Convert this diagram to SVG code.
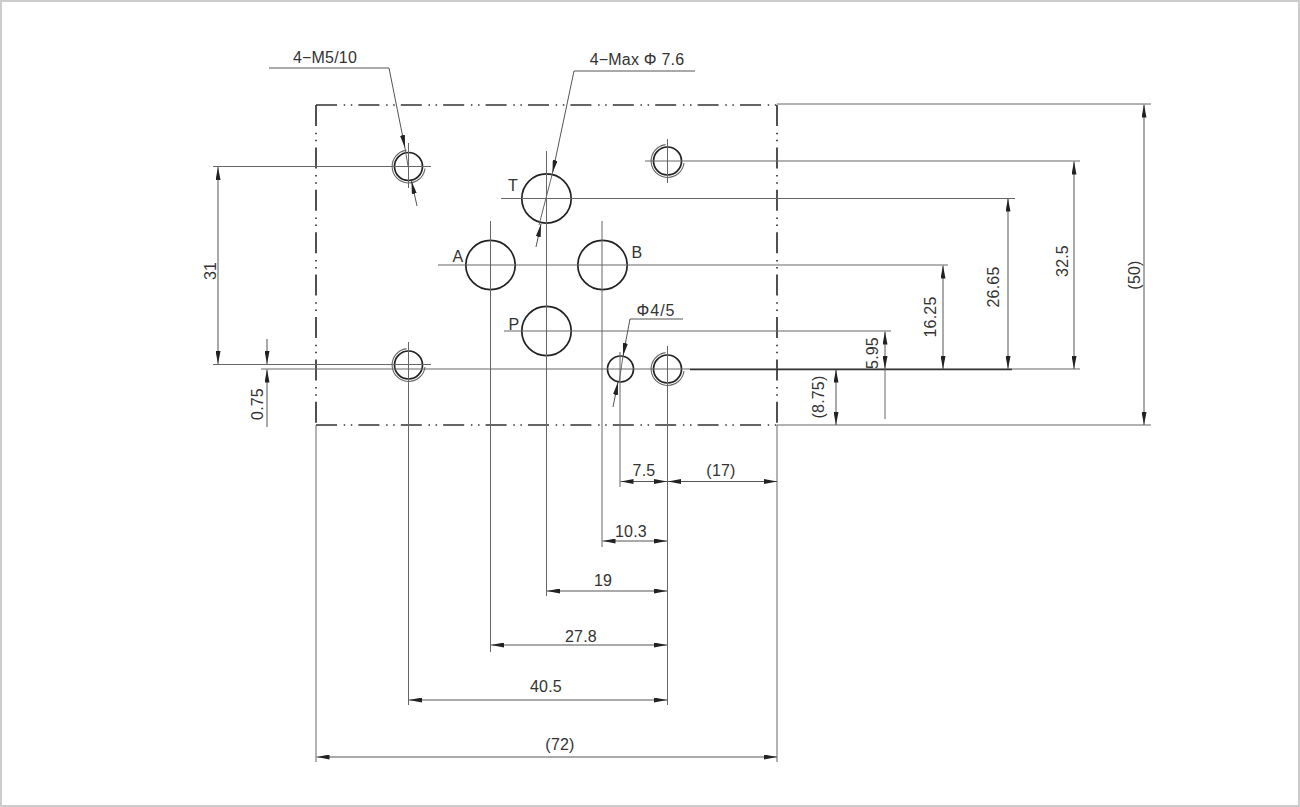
<svg xmlns="http://www.w3.org/2000/svg" width="1300" height="807" viewBox="0 0 1300 807">
<style>
text{font-family:"Liberation Sans",Arial,sans-serif;font-size:16px;letter-spacing:.2px;fill:#333;text-anchor:middle}
.l{fill:none;stroke:#666;stroke-width:1}
.d{fill:none;stroke:#555;stroke-width:1;marker-start:url(#a);marker-end:url(#a)}
.e{fill:none;stroke:#555;stroke-width:1;marker-end:url(#a)}
.o{fill:none;stroke:#333;stroke-width:1.7;stroke-dasharray:21 6.7 1.5 5.6 1.5 6.1}
.c{fill:#fff;stroke:#222;stroke-width:1.7}
.r{fill:none;stroke:#666;stroke-width:1.1}
</style>
<defs>
<marker id="a" viewBox="0 0 13 5" refX="13" refY="2.5" markerWidth="13" markerHeight="5" markerUnits="userSpaceOnUse" orient="auto-start-reverse"><path d="M0 0L13 2.5L0 5Z" fill="#222"/></marker>
</defs>
<rect width="1300" height="807" fill="#fff"/>
<rect x="1" y="1" width="1298" height="805" fill="none" stroke="#ccc" stroke-width="2"/>
<g id="plate"><path class="o" d="M316 105H777"/><path class="o" d="M316 105V425"/><path class="o" d="M777 105V425"/><path class="o" d="M316 425H777"/></g>
<g id="holes">
<g id="hole-tl"><circle class="c" cx="408.500" cy="166.500" r="14"/><path class="r" d="M406.500 150.100A16.500 16.500 0 1 0 425 168.500"/></g>
<g id="hole-tr"><circle class="c" cx="667.500" cy="161" r="14"/><path class="r" d="M665.500 144.600A16.500 16.500 0 1 0 684 163"/></g>
<g id="hole-bl"><circle class="c" cx="408.500" cy="365" r="14"/><path class="r" d="M406.500 348.600A16.500 16.500 0 1 0 425 367"/></g>
<g id="hole-br"><circle class="c" cx="667.500" cy="369" r="14"/><path class="r" d="M665.500 352.600A16.500 16.500 0 1 0 684 371"/></g>
<g id="port-T"><circle class="c" cx="546.500" cy="198.500" r="24.700"/></g>
<g id="port-A"><circle class="c" cx="490.500" cy="265" r="24.700"/></g>
<g id="port-B"><circle class="c" cx="602.500" cy="265" r="24.700"/></g>
<g id="port-P"><circle class="c" cx="546.500" cy="331" r="24.700"/></g>
<g id="pin"><circle class="c" cx="620.500" cy="369" r="13"/></g>
</g>
<g id="connectors">
<path class="l" d="M213 166.500H431M408.500 143V188M213 364.500H431M261 369H1080M408.500 342V705"/>
<path class="l" d="M501 198.500H1015M546.500 151V596M438 265H948M490.500 221V652M602 221V547M504 331H891"/>
<path class="l" d="M620 352V487M667.500 346V705M667.500 139V183M645 161H1080"/>
<path d="M690 369.500H1012" fill="none" stroke="#333" stroke-width="1.500"/>
<path class="l" d="M777 104H1151M777 425H1151M316 425V762M777 425V762"/>
<path class="d" d="M218 167V364"/>
<path class="e" d="M267 339V364"/><path class="e" d="M267 427V369.500"/>
<path class="d" d="M1144 104.500V425"/><path class="d" d="M1074 161.500V369"/><path class="d" d="M1008 198.500V369"/><path class="d" d="M943 265.500V369"/>
<path class="d" d="M836 369.500V425"/>
<path class="d" d="M885 331.500V369"/><path class="l" d="M885 369V419"/>
<path class="d" d="M620.500 481.500H667"/><path class="d" d="M668 481.500H777"/>
<path class="d" d="M602.500 541H667"/><path class="d" d="M547 591H667"/><path class="d" d="M491 645H667"/><path class="d" d="M409 700H667"/><path class="d" d="M316.500 757H777"/>
<path class="e" d="M269 68H389L405 148"/><path class="l" d="M405 148L408 166"/><path class="e" d="M417 206L411.500 181"/>
<path class="e" d="M695 71H574L552.500 173"/><path class="l" d="M552.500 173L539 225"/><path class="e" d="M536 247L541 224"/>
<path class="e" d="M683 319H630L623 356"/><path class="l" d="M623 356L619 383"/><path class="e" d="M613 407L618 382"/>
</g>
<g id="labels">
<text x="325" y="63">4−M5/10</text>
<text x="637" y="65">4−Max Φ 7.6</text>
<text x="513" y="191">T</text>
<text x="458" y="262">A</text>
<text x="637" y="258">B</text>
<text x="514" y="330">P</text>
<text x="656" y="316" style="letter-spacing:1px">Φ4/5</text>
<text x="644" y="476">7.5</text>
<text x="721" y="476">(17)</text>
<text x="631" y="537">10.3</text>
<text x="603" y="586">19</text>
<text x="581" y="642">27.8</text>
<text x="546" y="692">40.5</text>
<text x="560" y="750">(72)</text>
<text transform="translate(216 271) rotate(-90)">31</text>
<text transform="translate(263 404) rotate(-90)">0.75</text>
<text transform="translate(824 397) rotate(-90)">(8.75)</text>
<text transform="translate(878 353) rotate(-90)">5.95</text>
<text transform="translate(936 317) rotate(-90)">16.25</text>
<text transform="translate(999 287) rotate(-90)">26.65</text>
<text transform="translate(1068 261) rotate(-90)">32.5</text>
<text transform="translate(1140 275) rotate(-90)">(50)</text>
</g>
</svg>
